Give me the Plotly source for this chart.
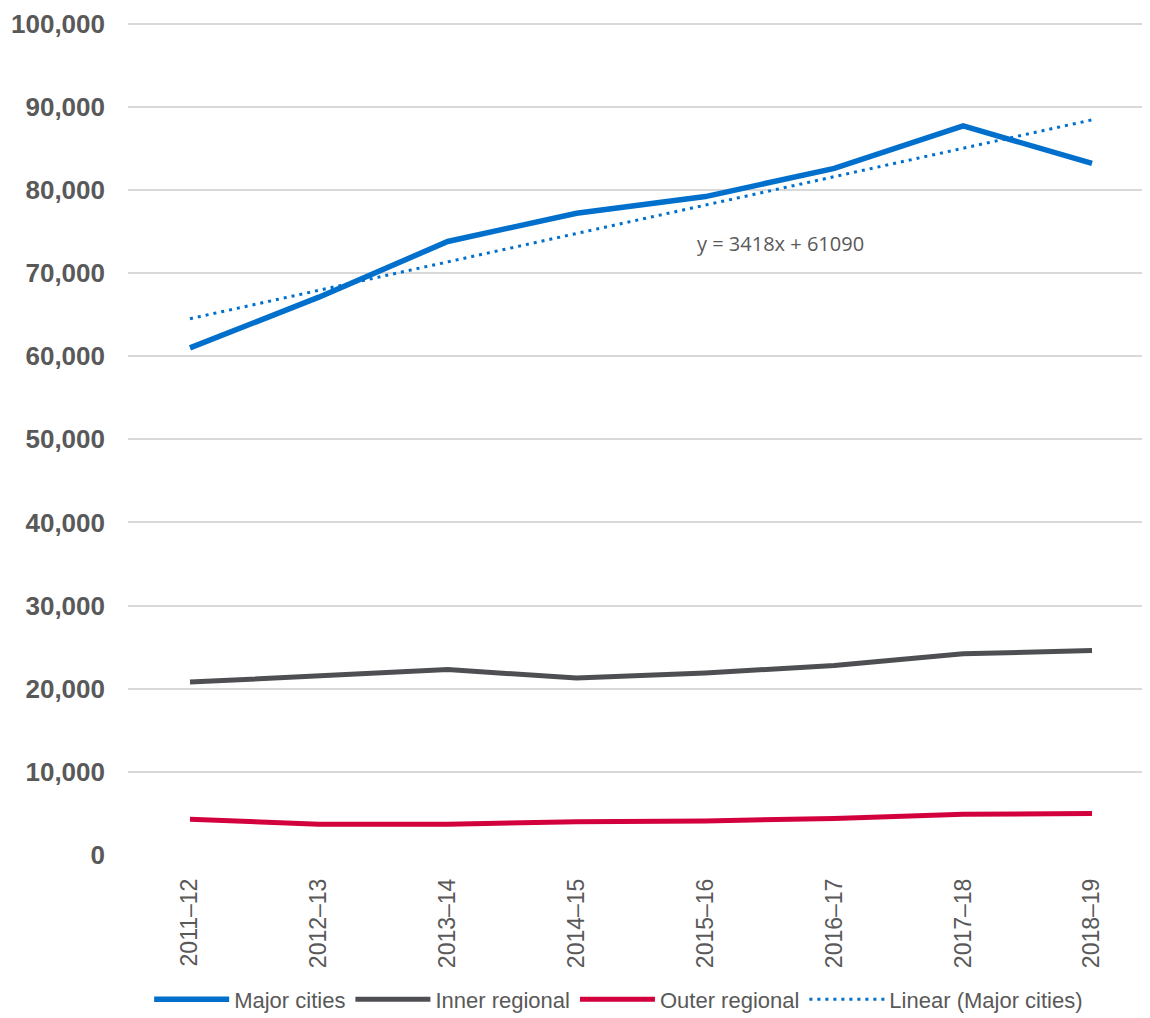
import plotly.graph_objects as go

# financial years on the x axis
years = ["2011\u201312", "2012\u201313", "2013\u201314", "2014\u201315",
         "2015\u201316", "2016\u201317", "2017\u201318", "2018\u201319"]

major_cities = [61000, 67100, 73800, 77200, 79200, 82600, 87700, 83200]
inner_regional = [20800, 21600, 22300, 21300, 21900, 22800, 24200, 24600]
outer_regional = [4300, 3700, 3700, 4000, 4100, 4400, 4900, 5000]

# linear trendline shown on the chart (y = 3418x + 61090, x = 1..8)
trend_slope = 3418
trend_intercept = 61090
trend_label = "y = 3418x + 61090"

y_ticks = [0, 10000, 20000, 30000, 40000, 50000, 60000, 70000, 80000, 90000, 100000]

BLUE = "#0070CC"
GREY = "#4D4F53"
RED = "#D2003C"
TEXT = "#595959"

trend = [trend_slope * (i + 1) + trend_intercept for i in range(len(years))]

fig = go.Figure()

fig.add_trace(go.Scatter(x=years, y=major_cities, name="Major cities",
                         mode="lines", line=dict(color=BLUE, width=5.5)))
fig.add_trace(go.Scatter(x=years, y=inner_regional, name="Inner regional",
                         mode="lines", line=dict(color=GREY, width=5)))
fig.add_trace(go.Scatter(x=years, y=outer_regional, name="Outer regional",
                         mode="lines", line=dict(color=RED, width=5)))
fig.add_trace(go.Scatter(x=years, y=trend, name="Linear (Major cities)",
                         mode="lines", line=dict(color=BLUE, width=3, dash="3px,5px")))

fig.add_annotation(x=4.58, y=73600, text=trend_label, showarrow=False,
                   font=dict(family="Open Sans, Liberation Sans", size=20, color=TEXT))

fig.update_xaxes(
    type="category",
    range=[-0.481, 7.512],
    tickangle=-90,
    tickfont=dict(family="Liberation Sans, Arial", size=23, color=TEXT),
    ticklabelstandoff=18,
    showgrid=False,
    showline=False,
    zeroline=False,
    automargin=False,
)

fig.update_yaxes(
    range=[0, 100200],
    tickvals=y_ticks,
    tickformat=",",
    tickfont=dict(family="Liberation Sans, Arial", size=26, color=TEXT, weight="bold"),
    ticklabelstandoff=22,
    ticklabeloverflow="allow",
    showgrid=True,
    gridcolor="#D9D9D9",
    gridwidth=1.5,
    zeroline=False,
    showline=False,
    automargin=False,
)

fig.update_layout(
    width=1150,
    height=1018,
    plot_bgcolor="white",
    paper_bgcolor="white",
    margin=dict(l=120, r=0, t=14, b=171),
    showlegend=True,
    legend=dict(
        orientation="h",
        xref="container", x=0.531, xanchor="center",
        yref="container", y=0.026, yanchor="middle",
        itemwidth=75,
        font=dict(family="Liberation Sans, Arial", size=22, color=TEXT),
        tracegroupgap=0,
    ),
)

fig.write_html("out.html")
